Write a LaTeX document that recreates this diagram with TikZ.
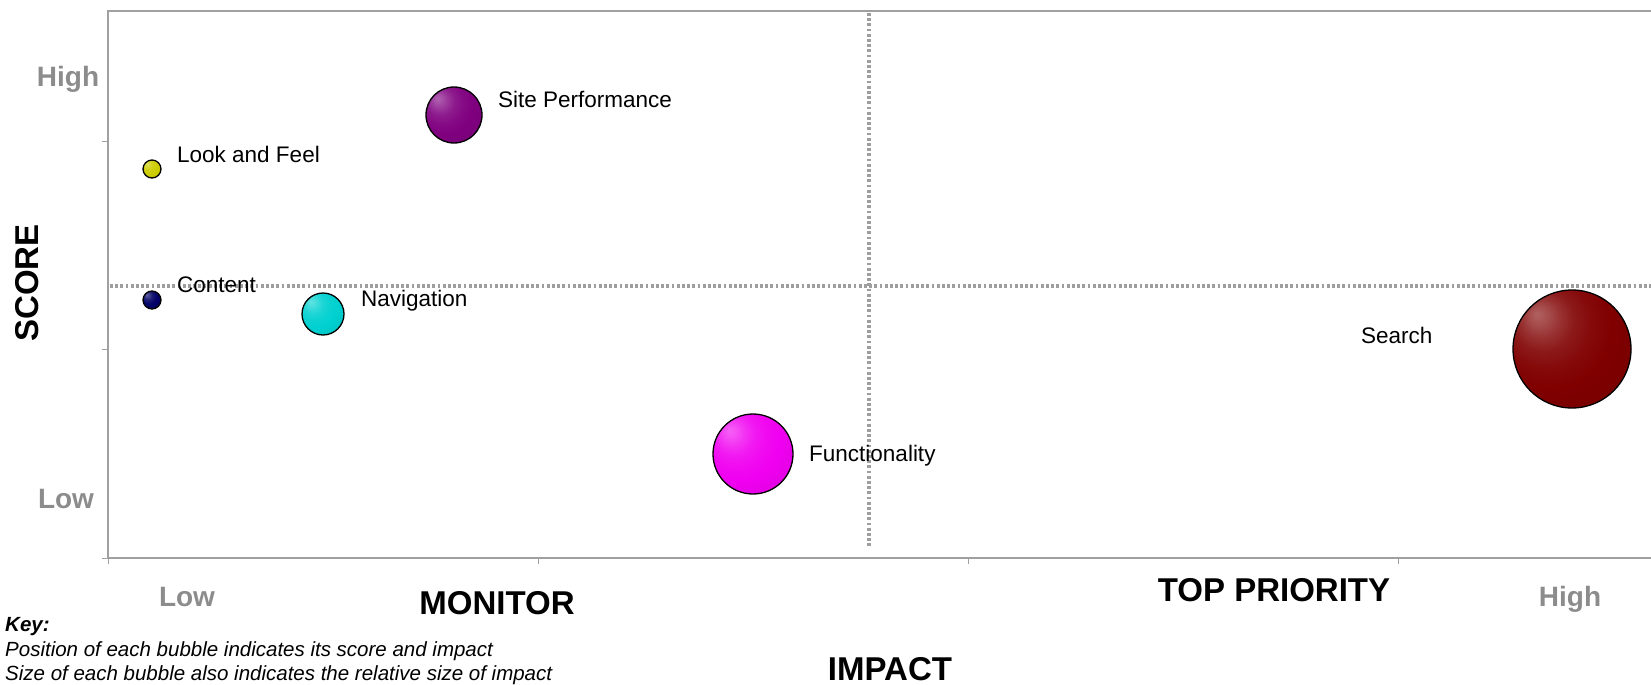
\documentclass[tikz,border=0pt]{standalone}
\usepackage{fontspec}
\setmainfont{Liberation Sans}
\definecolor{axisgray}{HTML}{A0A0A0}
\definecolor{dotgray}{HTML}{9E9E9E}
\definecolor{labgray}{HTML}{8C8C8C}
\definecolor{cYellow}{HTML}{CCCC00}
\definecolor{cNavy}{HTML}{000066}
\definecolor{cCyan}{HTML}{00D0D0}
\definecolor{cPurple}{HTML}{800080}
\definecolor{cMagenta}{HTML}{F000F0}
\definecolor{cRed}{HTML}{800000}
\colorlet{bmid}{cRed}
\pgfdeclareradialshading[bmid]{bubble}{\pgfpoint{-15bp}{15bp}}{%
  color(0bp)=(bmid!62!white); color(4bp)=(bmid!70!white);
  color(8bp)=(bmid!80!white); color(13bp)=(bmid!90!white);
  color(19bp)=(bmid!96!white); color(26bp)=(bmid);
  color(45bp)=(bmid!90!black); color(70bp)=(bmid!72!black)}
\begin{document}
\begin{tikzpicture}[x=1pt,y=-1pt,
  bub/.style 2 args={circle, draw=black, line width=1.3pt, inner sep=0pt,
    minimum size=#1, /utils/exec={\colorlet{bmid}{#2}}, shading=bubble},
  lab/.style={anchor=base west, inner sep=0pt, font=\fontsize{22.5}{26}\selectfont},
  axlab/.style={anchor=base, inner sep=0pt, text=labgray, font=\fontsize{28}{32}\selectfont\bfseries},
  bigtitle/.style={anchor=base, inner sep=0pt, font=\fontsize{33}{38}\selectfont\bfseries},
  keytext/.style={anchor=base west, inner sep=0pt, font=\fontsize{20.5}{24}\selectfont\itshape},
  frame/.style={draw=axisgray, line width=2pt},
  tick/.style={draw=axisgray, line width=1pt},
  quad/.style={draw=dotgray, line width=3.2pt, dash pattern=on 2.8pt off 2.4pt}]
\useasboundingbox (0,0) rectangle (1651,685);
% frame and axes
\coordinate (tl) at (108,11);
\coordinate (tr) at (1651,11);
\coordinate (bl) at (108,558);
\coordinate (br) at (1651,558);
\draw[frame] (tr) -- (tl) -- (bl) -- (br);
% ticks
\foreach \yy/\nm in {141/ya,349/yb,558/yc}{
  \coordinate (\nm1) at (102,\yy); \coordinate (\nm2) at (108,\yy);
  \draw[tick] (\nm1) -- (\nm2);}
\foreach \xx/\nm in {108/xa,538/xb,968/xc,1398/xd}{
  \coordinate (\nm1) at (\xx,558); \coordinate (\nm2) at (\xx,564);
  \draw[tick] (\nm1) -- (\nm2);}
% quadrant lines
\coordinate (vt) at (869,13);
\coordinate (vb) at (869,548);
\coordinate (hl) at (110,286);
\coordinate (hr) at (1651,286);
\draw[quad] (hl) -- (hr);
\draw[quad] (vt) -- (vb);
% bubbles
\node[bub={18pt}{cYellow}] (look) at (152,169) {};
\node[bub={18pt}{cNavy}] (cont) at (152,300) {};
\node[bub={42pt}{cCyan}] (nav) at (323,314) {};
\node[bub={56pt}{cPurple}] (site) at (454,115) {};
\node[bub={80pt}{cMagenta}] (func) at (753,454) {};
\node[bub={118pt}{cRed}] (search) at (1572,349) {};
% bubble labels
\node[lab] (looklab) at (177,162) {Look and Feel};
\node[lab] (contlab) at (177,292) {Content};
\node[lab] (navlab) at (361,306) {Navigation};
\node[lab] (sitelab) at (498,107) {Site Performance};
\node[lab] (funclab) at (809,461) {Functionality};
\node[lab] (searchlab) at (1361,343) {Search};
% axis labels
\node[axlab] (yhigh) at (68,86) {High};
\node[axlab] (ylow) at (66,508) {Low};
\node[axlab] (xlow) at (187,606) {Low};
\node[axlab] (xhigh) at (1570,606) {High};
\node[bigtitle] (monitor) at (497,614) {MONITOR};
\node[bigtitle] (top) at (1274,601) {TOP PRIORITY};
\node[bigtitle] (impact) at (890,680) {IMPACT};
\node[bigtitle, anchor=center, rotate=90] (score) at (27,283) {SCORE};
% key
\node[keytext, font=\fontsize{20.5}{24}\selectfont\bfseries\itshape] (key) at (5,631) {Key:};
\node[keytext] (key1) at (5,656) {Position of each bubble indicates its score and impact};
\node[keytext] (key2) at (5,680) {Size of each bubble also indicates the relative size of impact};
\end{tikzpicture}
\end{document}
